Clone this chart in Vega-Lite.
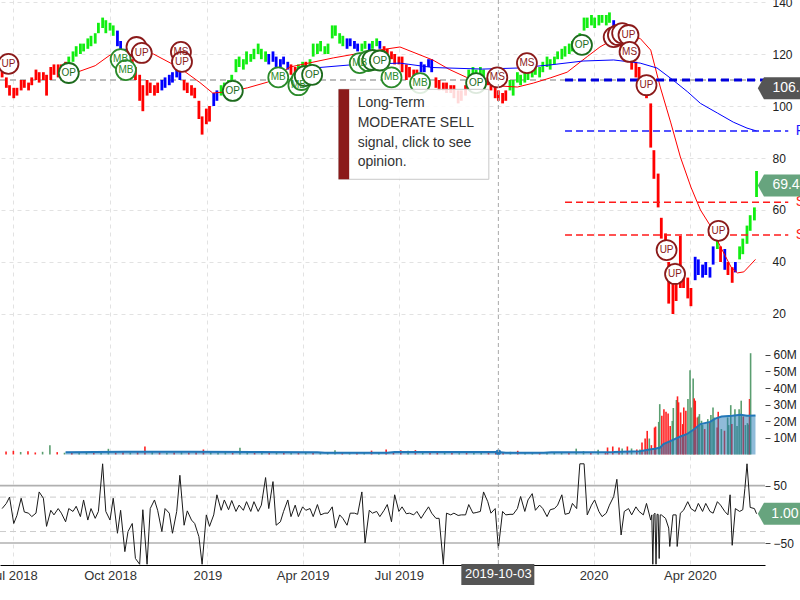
{
"$schema": "https://vega.github.io/schema/vega-lite/v6.json",
"width": 765, "height": 565,
"autosize": {"type": "none"},
"padding": {"left": 0, "top": 0, "right": 35, "bottom": 35},
"background": "white",
"config": {"view": {"stroke": null}, "font": "Liberation Sans"},
"datasets": {
"px": [
{"d":"2018-06-21","lo":111,"hi":114,"s":"r","o":10},
{"d":"2018-06-25","lo":107,"hi":111,"s":"r","o":19},
{"d":"2018-06-28","lo":104,"hi":108,"s":"r","o":30},
{"d":"2018-07-02","lo":103,"hi":107,"s":"r","o":-16},
{"d":"2018-07-05","lo":104,"hi":107,"s":"r","o":-2},
{"d":"2018-07-09","lo":106,"hi":110,"s":"r","o":28},
{"d":"2018-07-12","lo":107,"hi":110,"s":"r","o":4},
{"d":"2018-07-16","lo":106,"hi":109,"s":"r","o":2},
{"d":"2018-07-19","lo":108,"hi":111,"s":"r","o":-4},
{"d":"2018-07-23","lo":110,"hi":114,"s":"r","o":2},
{"d":"2018-07-26","lo":109,"hi":113,"s":"r","o":39},
{"d":"2018-07-30","lo":110,"hi":113,"s":"r","o":28},
{"d":"2018-08-02","lo":104,"hi":112,"s":"r","o":-21},
{"d":"2018-08-06","lo":110,"hi":115,"s":"r","o":7},
{"d":"2018-08-09","lo":112,"hi":116,"s":"r","o":-1},
{"d":"2018-08-13","lo":111,"hi":116,"s":"r","o":10},
{"d":"2018-08-16","lo":112,"hi":116,"s":"r","o":2},
{"d":"2018-08-20","lo":114,"hi":117,"s":"r","o":-13},
{"d":"2018-08-23","lo":116,"hi":119,"s":"g","o":10},
{"d":"2018-08-27","lo":117,"hi":121,"s":"g","o":5},
{"d":"2018-08-30","lo":119,"hi":123,"s":"g","o":14},
{"d":"2018-09-03","lo":120,"hi":124,"s":"g","o":-4},
{"d":"2018-09-06","lo":121,"hi":124,"s":"g","o":25},
{"d":"2018-09-10","lo":122,"hi":126,"s":"g","o":-10},
{"d":"2018-09-13","lo":123,"hi":127,"s":"g","o":10},
{"d":"2018-09-17","lo":124,"hi":128,"s":"g","o":-7},
{"d":"2018-09-20","lo":128,"hi":132,"s":"g","o":5},
{"d":"2018-09-24","lo":130,"hi":134,"s":"g","o":88},
{"d":"2018-09-27","lo":128,"hi":133,"s":"g","o":5},
{"d":"2018-10-01","lo":129,"hi":132,"s":"g","o":-10},
{"d":"2018-10-04","lo":127,"hi":131,"s":"g","o":28},
{"d":"2018-10-08","lo":123,"hi":129,"s":"b","o":-33},
{"d":"2018-10-11","lo":121,"hi":125,"s":"b","o":7},
{"d":"2018-10-15","lo":118,"hi":122,"s":"b","o":-65},
{"d":"2018-10-18","lo":116,"hi":120,"s":"b","o":-30},
{"d":"2018-10-22","lo":113,"hi":118,"s":"r","o":-16},
{"d":"2018-10-25","lo":110,"hi":115,"s":"r","o":-77},
{"d":"2018-10-29","lo":102,"hi":112,"s":"r","o":-87},
{"d":"2018-11-01","lo":98,"hi":108,"s":"r","o":8},
{"d":"2018-11-05","lo":104,"hi":110,"s":"r","o":-87},
{"d":"2018-11-08","lo":105,"hi":109,"s":"r","o":10},
{"d":"2018-11-12","lo":104,"hi":108,"s":"r","o":25},
{"d":"2018-11-15","lo":105,"hi":109,"s":"r","o":7},
{"d":"2018-11-19","lo":106,"hi":110,"s":"b","o":-30},
{"d":"2018-11-22","lo":107,"hi":111,"s":"b","o":10},
{"d":"2018-11-26","lo":108,"hi":112,"s":"b","o":2},
{"d":"2018-11-29","lo":109,"hi":113,"s":"b","o":-33},
{"d":"2018-12-03","lo":111,"hi":115,"s":"b","o":5},
{"d":"2018-12-06","lo":110,"hi":114,"s":"b","o":68},
{"d":"2018-12-10","lo":106,"hi":110,"s":"r","o":-19},
{"d":"2018-12-13","lo":105,"hi":109,"s":"r","o":6},
{"d":"2018-12-17","lo":104,"hi":108,"s":"r","o":-10},
{"d":"2018-12-20","lo":103,"hi":107,"s":"r","o":-16},
{"d":"2018-12-24","lo":95,"hi":102,"s":"r","o":-39},
{"d":"2018-12-27","lo":89,"hi":96,"s":"r","o":-87},
{"d":"2018-12-31","lo":93,"hi":99,"s":"r","o":-1},
{"d":"2019-01-03","lo":94,"hi":100,"s":"r","o":-21},
{"d":"2019-01-07","lo":100,"hi":105,"s":"b","o":-1},
{"d":"2019-01-10","lo":102,"hi":106,"s":"b","o":34},
{"d":"2019-01-14","lo":104,"hi":108,"s":"g","o":7},
{"d":"2019-01-17","lo":105,"hi":109,"s":"g","o":25},
{"d":"2019-01-21","lo":106,"hi":110,"s":"g","o":8},
{"d":"2019-01-24","lo":108,"hi":112,"s":"g","o":24},
{"d":"2019-01-28","lo":113,"hi":118,"s":"g","o":5},
{"d":"2019-01-31","lo":115,"hi":119,"s":"g","o":16},
{"d":"2019-02-04","lo":114,"hi":118,"s":"g","o":7},
{"d":"2019-02-07","lo":116,"hi":121,"s":"g","o":22},
{"d":"2019-02-11","lo":117,"hi":120,"s":"g","o":5},
{"d":"2019-02-14","lo":118,"hi":122,"s":"g","o":22},
{"d":"2019-02-18","lo":120,"hi":124,"s":"g","o":5},
{"d":"2019-02-21","lo":118,"hi":122,"s":"g","o":16},
{"d":"2019-02-25","lo":117,"hi":121,"s":"g","o":64},
{"d":"2019-02-28","lo":116,"hi":120,"s":"b","o":10},
{"d":"2019-03-04","lo":117,"hi":121,"s":"b","o":57},
{"d":"2019-03-07","lo":115,"hi":119,"s":"b","o":-19},
{"d":"2019-03-11","lo":115,"hi":118,"s":"b","o":-13},
{"d":"2019-03-14","lo":116,"hi":119,"s":"b","o":5},
{"d":"2019-03-18","lo":114,"hi":117,"s":"b","o":25},
{"d":"2019-03-21","lo":112,"hi":116,"s":"r","o":-4},
{"d":"2019-03-25","lo":110,"hi":115,"s":"r","o":16},
{"d":"2019-03-28","lo":111,"hi":116,"s":"g","o":-4},
{"d":"2019-04-01","lo":112,"hi":117,"s":"g","o":13},
{"d":"2019-04-04","lo":113,"hi":117,"s":"r","o":7},
{"d":"2019-04-08","lo":114,"hi":118,"s":"g","o":10},
{"d":"2019-04-11","lo":119,"hi":124,"s":"g","o":-4},
{"d":"2019-04-15","lo":120,"hi":124,"s":"g","o":17},
{"d":"2019-04-18","lo":121,"hi":125,"s":"g","o":-1},
{"d":"2019-04-22","lo":120,"hi":123,"s":"g","o":2},
{"d":"2019-04-25","lo":120,"hi":124,"s":"g","o":2},
{"d":"2019-04-29","lo":126,"hi":131,"s":"g","o":13},
{"d":"2019-05-02","lo":127,"hi":131,"s":"g","o":-24},
{"d":"2019-05-06","lo":124,"hi":128,"s":"g","o":-1},
{"d":"2019-05-09","lo":123,"hi":127,"s":"g","o":-7},
{"d":"2019-05-13","lo":122,"hi":126,"s":"b","o":-19},
{"d":"2019-05-16","lo":123,"hi":126,"s":"b","o":2},
{"d":"2019-05-20","lo":122,"hi":125,"s":"b","o":2},
{"d":"2019-05-23","lo":121,"hi":124,"s":"b","o":0},
{"d":"2019-05-27","lo":121,"hi":124,"s":"g","o":39},
{"d":"2019-05-30","lo":122,"hi":125,"s":"g","o":-50},
{"d":"2019-06-03","lo":121,"hi":124,"s":"b","o":7},
{"d":"2019-06-06","lo":122,"hi":125,"s":"g","o":2},
{"d":"2019-06-10","lo":123,"hi":126,"s":"g","o":5},
{"d":"2019-06-13","lo":122,"hi":125,"s":"b","o":-4},
{"d":"2019-06-17","lo":120,"hi":123,"s":"r","o":7},
{"d":"2019-06-20","lo":117,"hi":122,"s":"r","o":17},
{"d":"2019-06-24","lo":118,"hi":121,"s":"r","o":-13},
{"d":"2019-06-27","lo":116,"hi":120,"s":"r","o":34},
{"d":"2019-07-01","lo":116,"hi":119,"s":"r","o":5},
{"d":"2019-07-04","lo":113,"hi":119,"s":"r","o":13},
{"d":"2019-07-08","lo":110,"hi":116,"s":"r","o":1},
{"d":"2019-07-11","lo":111,"hi":115,"s":"r","o":2},
{"d":"2019-07-15","lo":109,"hi":114,"s":"r","o":-1},
{"d":"2019-07-18","lo":110,"hi":114,"s":"r","o":5},
{"d":"2019-07-22","lo":113,"hi":117,"s":"b","o":-7},
{"d":"2019-07-25","lo":113,"hi":116,"s":"b","o":2},
{"d":"2019-07-29","lo":115,"hi":118,"s":"b","o":13},
{"d":"2019-08-01","lo":113,"hi":118,"s":"b","o":2},
{"d":"2019-08-05","lo":107,"hi":111,"s":"r","o":-7},
{"d":"2019-08-08","lo":106,"hi":110,"s":"r","o":-7},
{"d":"2019-08-12","lo":106,"hi":109,"s":"r","o":-87},
{"d":"2019-08-15","lo":105,"hi":109,"s":"r","o":2},
{"d":"2019-08-19","lo":105,"hi":108,"s":"r","o":-1},
{"d":"2019-08-22","lo":103,"hi":108,"s":"r","o":2},
{"d":"2019-08-26","lo":101,"hi":106,"s":"r","o":-2},
{"d":"2019-08-29","lo":102,"hi":106,"s":"r","o":-1},
{"d":"2019-09-02","lo":104,"hi":108,"s":"r","o":-1},
{"d":"2019-09-05","lo":110,"hi":114,"s":"g","o":17},
{"d":"2019-09-09","lo":111,"hi":115,"s":"g","o":2},
{"d":"2019-09-12","lo":111,"hi":114,"s":"g","o":3},
{"d":"2019-09-16","lo":112,"hi":115,"s":"g","o":5},
{"d":"2019-09-19","lo":110,"hi":114,"s":"g","o":39},
{"d":"2019-09-23","lo":108,"hi":111,"s":"r","o":22},
{"d":"2019-09-26","lo":106,"hi":110,"s":"r","o":2},
{"d":"2019-09-30","lo":103,"hi":108,"s":"r","o":10},
{"d":"2019-10-03","lo":102,"hi":106,"s":"r","o":-59},
{"d":"2019-10-07","lo":101,"hi":105,"s":"r","o":5},
{"d":"2019-10-10","lo":102,"hi":106,"s":"r","o":-1},
{"d":"2019-10-14","lo":106,"hi":110,"s":"g","o":0},
{"d":"2019-10-17","lo":104,"hi":110,"s":"g","o":0},
{"d":"2019-10-21","lo":109,"hi":113,"s":"g","o":10},
{"d":"2019-10-24","lo":108,"hi":112,"s":"g","o":31},
{"d":"2019-10-28","lo":109,"hi":114,"s":"g","o":5},
{"d":"2019-10-31","lo":110,"hi":114,"s":"g","o":25},
{"d":"2019-11-04","lo":111,"hi":115,"s":"g","o":36},
{"d":"2019-11-07","lo":112,"hi":116,"s":"g","o":7},
{"d":"2019-11-11","lo":111,"hi":115,"s":"g","o":16},
{"d":"2019-11-14","lo":113,"hi":117,"s":"g","o":10},
{"d":"2019-11-18","lo":115,"hi":119,"s":"g","o":-4},
{"d":"2019-11-21","lo":114,"hi":118,"s":"g","o":8},
{"d":"2019-11-25","lo":116,"hi":119,"s":"g","o":10},
{"d":"2019-11-28","lo":118,"hi":121,"s":"g","o":16},
{"d":"2019-12-02","lo":118,"hi":122,"s":"g","o":34},
{"d":"2019-12-05","lo":119,"hi":123,"s":"g","o":0},
{"d":"2019-12-09","lo":120,"hi":124,"s":"g","o":2},
{"d":"2019-12-12","lo":121,"hi":125,"s":"g","o":19},
{"d":"2019-12-16","lo":122,"hi":126,"s":"g","o":10},
{"d":"2019-12-19","lo":124,"hi":128,"s":"g","o":88},
{"d":"2019-12-23","lo":129,"hi":134,"s":"g","o":88},
{"d":"2019-12-26","lo":130,"hi":134,"s":"g","o":-1},
{"d":"2019-12-30","lo":131,"hi":135,"s":"g","o":16},
{"d":"2020-01-02","lo":130,"hi":134,"s":"g","o":25},
{"d":"2020-01-06","lo":131,"hi":135,"s":"g","o":5},
{"d":"2020-01-09","lo":132,"hi":135,"s":"g","o":-4},
{"d":"2020-01-13","lo":131,"hi":135,"s":"g","o":2},
{"d":"2020-01-16","lo":132,"hi":136,"s":"g","o":16},
{"d":"2020-01-20","lo":129,"hi":133,"s":"b","o":31},
{"d":"2020-01-23","lo":126,"hi":131,"s":"r","o":61},
{"d":"2020-01-27","lo":121,"hi":127,"s":"r","o":-36},
{"d":"2020-01-30","lo":119,"hi":125,"s":"r","o":5},
{"d":"2020-02-03","lo":117,"hi":123,"s":"r","o":10},
{"d":"2020-02-06","lo":114,"hi":120,"s":"r","o":-1},
{"d":"2020-02-10","lo":111,"hi":117,"s":"r","o":13},
{"d":"2020-02-13","lo":110,"hi":115,"s":"r","o":5},
{"d":"2020-02-17","lo":106,"hi":111,"s":"r","o":-1},
{"d":"2020-02-20","lo":103,"hi":108,"s":"r","o":19},
{"d":"2020-02-24","lo":84,"hi":101,"s":"r","o":-10},
{"d":"2020-02-25","o":-1},
{"d":"2020-02-26","o":-87},
{"d":"2020-02-27","lo":72,"hi":83,"s":"r","o":0},
{"d":"2020-02-28","o":2},
{"d":"2020-02-29","o":-87},
{"d":"2020-03-01","o":0},
{"d":"2020-03-02","lo":61,"hi":74,"s":"r","o":0},
{"d":"2020-03-03","o":-77},
{"d":"2020-03-04","o":-1},
{"d":"2020-03-05","lo":49,"hi":57,"s":"r","o":-1},
{"d":"2020-03-09","lo":44,"hi":51,"s":"r","o":-7},
{"d":"2020-03-12","lo":24,"hi":40,"s":"r","o":-24},
{"d":"2020-03-13","o":-56},
{"d":"2020-03-16","lo":20,"hi":32,"s":"r","o":-1},
{"d":"2020-03-19","lo":25,"hi":32,"s":"r","o":-1},
{"d":"2020-03-20","o":-56},
{"d":"2020-03-23","lo":30,"hi":50,"s":"r","o":2},
{"d":"2020-03-26","lo":30,"hi":36,"s":"r","o":7},
{"d":"2020-03-30","lo":26,"hi":34,"s":"r","o":22},
{"d":"2020-04-02","lo":23,"hi":30,"s":"r","o":10},
{"d":"2020-04-06","lo":33,"hi":42,"s":"b","o":5},
{"d":"2020-04-09","lo":35,"hi":41,"s":"b","o":19},
{"d":"2020-04-13","lo":34,"hi":39,"s":"b","o":5},
{"d":"2020-04-16","lo":35,"hi":40,"s":"b","o":19},
{"d":"2020-04-20","lo":34,"hi":38,"s":"b","o":5},
{"d":"2020-04-23","lo":39,"hi":46,"s":"b","o":2},
{"d":"2020-04-27","lo":45,"hi":51,"s":"g","o":22},
{"d":"2020-04-30","lo":40,"hi":46,"s":"r","o":16},
{"d":"2020-05-04","lo":37,"hi":45,"s":"b","o":5},
{"d":"2020-05-07","lo":35,"hi":40,"s":"r","o":-1},
{"d":"2020-05-09","o":34},
{"d":"2020-05-11","lo":32,"hi":38,"s":"r","o":-54},
{"d":"2020-05-14","lo":36,"hi":40,"s":"b","o":10},
{"d":"2020-05-18","lo":41,"hi":46,"s":"g","o":5},
{"d":"2020-05-21","lo":43,"hi":49,"s":"g","o":8},
{"d":"2020-05-23","o":45},
{"d":"2020-05-25","lo":47,"hi":54,"s":"g","o":88},
{"d":"2020-05-28","lo":52,"hi":58,"s":"g","o":12},
{"d":"2020-06-01","lo":56,"hi":61,"s":"g","o":10},
{"d":"2020-06-03","lo":65,"hi":75,"s":"g","o":1}
],
"mar": [
{"d":"2018-08-24","p":112},{"d":"2018-09-17","p":115.5},{"d":"2018-10-01","p":119.6},{"d":"2018-10-15","p":121},
{"d":"2018-11-11","p":120},{"d":"2018-12-06","p":114.6},{"d":"2018-12-25","p":109},{"d":"2019-01-06","p":105},
{"d":"2019-01-22","p":105.5},{"d":"2019-02-08","p":107},{"d":"2019-02-27","p":109.2},{"d":"2019-03-20","p":115},
{"d":"2019-04-30","p":118.5},{"d":"2019-06-04","p":121},{"d":"2019-07-02","p":122.7},{"d":"2019-08-02","p":117.7},
{"d":"2019-08-18","p":114},{"d":"2019-09-03","p":111},{"d":"2019-09-22","p":109},{"d":"2019-10-04","p":107.7},
{"d":"2019-10-21","p":107.3},{"d":"2019-11-05","p":108.8},{"d":"2019-11-21","p":110.8},{"d":"2019-12-07","p":113},
{"d":"2019-12-26","p":119},{"d":"2020-01-07","p":122.7},{"d":"2020-01-17","p":125},{"d":"2020-02-02","p":127},
{"d":"2020-02-14","p":126},{"d":"2020-02-24","p":121.5},{"d":"2020-03-04","p":107.3},{"d":"2020-03-14","p":93.5},
{"d":"2020-03-23","p":80.4},{"d":"2020-04-02","p":68.8},{"d":"2020-04-11","p":60},{"d":"2020-04-21","p":53.5},
{"d":"2020-04-30","p":45.8},{"d":"2020-05-10","p":38},{"d":"2020-05-16","p":35.8},{"d":"2020-05-22","p":36.2},
{"d":"2020-05-28","p":38.8},{"d":"2020-06-02","p":41}
],
"mab": [
{"d":"2019-03-27","p":112},{"d":"2019-04-11","p":114.6},{"d":"2019-05-16","p":115.8},{"d":"2019-07-02","p":116.5},
{"d":"2019-08-02","p":114.8},{"d":"2019-09-18","p":114.2},{"d":"2019-10-21","p":114.6},{"d":"2019-11-21","p":115.8},
{"d":"2019-12-22","p":117.3},{"d":"2020-01-20","p":117.7},{"d":"2020-02-14","p":116.5},{"d":"2020-03-01","p":114.6},
{"d":"2020-03-16","p":110},{"d":"2020-03-30","p":105.4},{"d":"2020-04-11","p":101},{"d":"2020-04-27","p":97.3},
{"d":"2020-05-12","p":93.8},{"d":"2020-05-25","p":91.5},{"d":"2020-06-03","p":90.4}
],
"lvl": [
{"d":"2018-06-19","d2":"2020-06-11","p":110,"k":"cross"},
{"d":"2019-12-05","d2":"2020-07-03","p":110,"k":"r1"},
{"d":"2019-12-05","d2":"2020-07-03","p":90.4,"k":"r2"},
{"d":"2019-12-05","d2":"2020-07-03","p":63,"k":"s"},
{"d":"2019-12-05","d2":"2020-07-03","p":50.4,"k":"s"}
],
"lvlt": [
{"d":"2020-07-10","p":90.4,"t":"R","k":"r"},
{"d":"2020-07-10","p":63,"t":"S","k":"s"},
{"d":"2020-07-10","p":50.4,"t":"S","k":"s"}
],
"sig": [
{"d":"2018-06-27","p":116.2,"t":"UP","k":"UP"},
{"d":"2018-08-23","p":112.7,"t":"OP","k":"OP"},
{"d":"2018-10-11","p":118,"t":"MB","k":"MB"},
{"d":"2018-10-16","p":113.8,"t":"MB","k":"MB"},
{"d":"2018-10-26","p":122.7,"t":"","k":"UP"},
{"d":"2018-10-31","p":120.4,"t":"UP","k":"UP"},
{"d":"2018-12-07","p":120.8,"t":"MS","k":"MS"},
{"d":"2018-12-08","p":117,"t":"UP","k":"UP"},
{"d":"2019-01-25","p":105.8,"t":"OP","k":"OP"},
{"d":"2019-03-09","p":111,"t":"MB","k":"MB"},
{"d":"2019-03-28","p":108,"t":"MB","k":"MB"},
{"d":"2019-03-31","p":110,"t":"","k":"MB"},
{"d":"2019-04-03","p":111.5,"t":"","k":"OP"},
{"d":"2019-04-10","p":112,"t":"OP","k":"OP"},
{"d":"2019-05-25","p":116.5,"t":"MB","k":"MB"},
{"d":"2019-06-02","p":117.3,"t":"","k":"MB"},
{"d":"2019-06-06","p":117.7,"t":"","k":"OP"},
{"d":"2019-06-13","p":117.5,"t":"OP","k":"OP"},
{"d":"2019-06-24","p":111,"t":"MB","k":"MB"},
{"d":"2019-07-21","p":108.8,"t":"MB","k":"MB"},
{"d":"2019-09-12","p":108.8,"t":"OP","k":"OP"},
{"d":"2019-10-02","p":111,"t":"MS","k":"MS"},
{"d":"2019-10-30","p":116.5,"t":"MS","k":"MS"},
{"d":"2019-12-21","p":123.5,"t":"OP","k":"OP"},
{"d":"2020-01-20","p":126.5,"t":"","k":"UP"},
{"d":"2020-01-24","p":127.3,"t":"","k":"UP"},
{"d":"2020-01-28","p":128,"t":"","k":"UP"},
{"d":"2020-02-03","p":127.3,"t":"UP","k":"UP"},
{"d":"2020-02-04","p":120.8,"t":"MS","k":"MS"},
{"d":"2020-02-20","p":108,"t":"UP","k":"UP"},
{"d":"2020-03-10","p":44.6,"t":"UP","k":"UP"},
{"d":"2020-03-18","p":35.4,"t":"UP","k":"UP"},
{"d":"2020-04-28","p":52,"t":"UP","k":"UP"}
],
"tiptext": [
{"d":"2019-05-23","p":101.0,"t":"Long-Term"},
{"d":"2019-05-23","p":93.35,"t":"MODERATE SELL"},
{"d":"2019-05-23","p":85.65,"t":"signal, click to see"},
{"d":"2019-05-23","p":78.6,"t":"opinion."}
],
"tags": [
{"d":"2020-06-25","dt":"2020-06-18","p":106.8,"t":"106.8","k":"cross"},
{"d":"2020-06-25","dt":"2020-06-18","p":69.44,"t":"69.44","k":"last"}
],
"vol": [
{"d":"2018-06-20","v":1.8,"c":"dn"},{"d":"2018-06-27","v":2.2,"c":"dn"},{"d":"2018-07-04","v":1.5,"c":"up"},{"d":"2018-07-11","v":2.0,"c":"dn"},
{"d":"2018-07-18","v":1.2,"c":"dn"},{"d":"2018-07-25","v":1.6,"c":"up"},{"d":"2018-08-01","v":5.6,"c":"up"},{"d":"2018-08-08","v":1.4,"c":"dn"},
{"d":"2018-08-15","v":1.0,"c":"up"},{"d":"2018-08-22","v":1.3,"c":"dn"},{"d":"2018-08-29","v":0.9,"c":"up"},{"d":"2018-09-05","v":1.1,"c":"up"},
{"d":"2018-09-12","v":1.2,"c":"dn"},{"d":"2018-09-19","v":0.9,"c":"up"},{"d":"2018-09-26","v":3.4,"c":"up"},{"d":"2018-10-03","v":1.3,"c":"dn"},
{"d":"2018-10-10","v":1.5,"c":"dn"},{"d":"2018-10-17","v":1.2,"c":"up"},{"d":"2018-10-24","v":1.6,"c":"dn"},{"d":"2018-10-31","v":4.8,"c":"dn"},
{"d":"2018-11-07","v":2.0,"c":"up"},{"d":"2018-11-14","v":1.4,"c":"dn"},{"d":"2018-11-21","v":1.1,"c":"up"},{"d":"2018-11-28","v":1.3,"c":"dn"},
{"d":"2018-12-05","v":1.8,"c":"up"},{"d":"2018-12-12","v":1.2,"c":"dn"},{"d":"2018-12-19","v":1.6,"c":"dn"},{"d":"2018-12-26","v":3.0,"c":"dn"},
{"d":"2019-01-02","v":1.5,"c":"up"},{"d":"2019-01-09","v":1.2,"c":"up"},{"d":"2019-01-16","v":1.4,"c":"up"},{"d":"2019-01-23","v":1.1,"c":"dn"},
{"d":"2019-01-30","v":4.0,"c":"up"},{"d":"2019-02-06","v":1.3,"c":"up"},{"d":"2019-02-13","v":1.0,"c":"dn"},{"d":"2019-02-20","v":1.2,"c":"up"},
{"d":"2019-02-27","v":1.0,"c":"dn"},{"d":"2019-03-06","v":1.1,"c":"up"},{"d":"2019-03-13","v":1.3,"c":"dn"},{"d":"2019-03-20","v":0.9,"c":"up"},
{"d":"2019-03-27","v":1.2,"c":"dn"},{"d":"2019-04-03","v":1.0,"c":"up"},{"d":"2019-04-10","v":1.4,"c":"dn"},{"d":"2019-04-17","v":1.1,"c":"up"},
{"d":"2019-04-24","v":1.2,"c":"up"},{"d":"2019-05-01","v":2.5,"c":"up"},{"d":"2019-05-08","v":1.0,"c":"dn"},{"d":"2019-05-15","v":0.8,"c":"up"},
{"d":"2019-05-22","v":1.0,"c":"dn"},{"d":"2019-05-29","v":0.9,"c":"up"},{"d":"2019-06-05","v":2.3,"c":"dn"},{"d":"2019-06-12","v":1.0,"c":"up"},
{"d":"2019-06-19","v":3.0,"c":"dn"},{"d":"2019-06-26","v":1.2,"c":"dn"},{"d":"2019-07-03","v":2.5,"c":"dn"},{"d":"2019-07-10","v":2.2,"c":"up"},
{"d":"2019-07-17","v":2.6,"c":"dn"},{"d":"2019-07-24","v":1.4,"c":"up"},{"d":"2019-07-31","v":1.2,"c":"dn"},{"d":"2019-08-07","v":1.0,"c":"dn"},
{"d":"2019-08-14","v":0.9,"c":"up"},{"d":"2019-08-21","v":1.1,"c":"dn"},{"d":"2019-08-28","v":0.8,"c":"up"},{"d":"2019-09-04","v":1.0,"c":"dn"},
{"d":"2019-09-11","v":1.8,"c":"up"},{"d":"2019-09-18","v":1.0,"c":"up"},{"d":"2019-09-25","v":1.2,"c":"dn"},{"d":"2019-10-02","v":1.4,"c":"dn"},
{"d":"2019-10-09","v":1.1,"c":"dn"},{"d":"2019-10-16","v":1.6,"c":"up"},{"d":"2019-10-23","v":2.2,"c":"dn"},{"d":"2019-10-30","v":1.0,"c":"up"},
{"d":"2019-11-06","v":0.9,"c":"up"},{"d":"2019-11-13","v":1.0,"c":"dn"},{"d":"2019-11-20","v":1.1,"c":"up"},{"d":"2019-11-27","v":0.9,"c":"up"},
{"d":"2019-12-04","v":1.2,"c":"up"},{"d":"2019-12-11","v":1.0,"c":"dn"},{"d":"2019-12-18","v":3.5,"c":"up"},{"d":"2019-12-25","v":2.0,"c":"up"},
{"d":"2020-01-01","v":1.2,"c":"dn"},{"d":"2020-01-08","v":2.8,"c":"up"},{"d":"2020-01-15","v":1.5,"c":"dn"},
{"d":"2020-01-17","v":4.2,"c":"dn"},{"d":"2020-01-22","v":4.8,"c":"dn"},{"d":"2020-01-28","v":4.2,"c":"dn"},{"d":"2020-01-31","v":3.6,"c":"up"},
{"d":"2020-02-05","v":4.8,"c":"dn"},{"d":"2020-02-09","v":3.6,"c":"up"},{"d":"2020-02-14","v":3.0,"c":"dn"},{"d":"2020-02-17","v":3.0,"c":"up"},
{"d":"2020-02-19","v":7.2,"c":"dn"},{"d":"2020-02-22","v":9.6,"c":"dn"},{"d":"2020-02-24","v":14.2,"c":"dn"},{"d":"2020-02-26","v":9.6,"c":"up"},
{"d":"2020-02-28","v":5.6,"c":"dn"},{"d":"2020-03-02","v":16.2,"c":"dn"},{"d":"2020-03-03","v":16.8,"c":"dn"},{"d":"2020-03-06","v":19.6,"c":"up"},
{"d":"2020-03-07","v":30.3,"c":"up"},{"d":"2020-03-09","v":23.3,"c":"dn"},{"d":"2020-03-11","v":27.3,"c":"dn"},{"d":"2020-03-13","v":25.7,"c":"dn"},
{"d":"2020-03-15","v":24.7,"c":"dn"},{"d":"2020-03-17","v":17.2,"c":"dn"},{"d":"2020-03-19","v":20.2,"c":"up"},{"d":"2020-03-20","v":28,"c":"up"},
{"d":"2020-03-23","v":32.8,"c":"up"},{"d":"2020-03-24","v":35,"c":"dn"},{"d":"2020-03-25","v":31.4,"c":"dn"},{"d":"2020-03-27","v":25.3,"c":"dn"},
{"d":"2020-03-29","v":18.3,"c":"dn"},{"d":"2020-03-30","v":28.3,"c":"dn"},{"d":"2020-04-01","v":26.3,"c":"dn"},{"d":"2020-04-03","v":33.4,"c":"up"},
{"d":"2020-04-05","v":50.8,"c":"up"},{"d":"2020-04-06","v":28.3,"c":"up"},{"d":"2020-04-08","v":45.8,"c":"up"},{"d":"2020-04-09","v":33.8,"c":"dn"},
{"d":"2020-04-10","v":32.4,"c":"dn"},{"d":"2020-04-12","v":22.3,"c":"dn"},{"d":"2020-04-13","v":22.9,"c":"up"},{"d":"2020-04-14","v":24.3,"c":"up"},
{"d":"2020-04-16","v":20.3,"c":"up"},{"d":"2020-04-17","v":17.7,"c":"up"},{"d":"2020-04-19","v":15.3,"c":"dn"},{"d":"2020-04-22","v":21.3,"c":"up"},
{"d":"2020-04-24","v":19.2,"c":"dn"},{"d":"2020-04-25","v":23.7,"c":"up"},{"d":"2020-04-27","v":28.3,"c":"up"},{"d":"2020-04-28","v":22.3,"c":"up"},
{"d":"2020-05-01","v":16.3,"c":"dn"},{"d":"2020-05-02","v":25.7,"c":"dn"},{"d":"2020-05-05","v":15.3,"c":"up"},{"d":"2020-05-08","v":14.3,"c":"dn"},
{"d":"2020-05-11","v":22.3,"c":"up"},{"d":"2020-05-12","v":17.7,"c":"up"},{"d":"2020-05-14","v":29.7,"c":"up"},{"d":"2020-05-15","v":18.3,"c":"dn"},
{"d":"2020-05-18","v":27.3,"c":"up"},{"d":"2020-05-20","v":17.2,"c":"up"},{"d":"2020-05-22","v":27.3,"c":"up"},{"d":"2020-05-24","v":32.4,"c":"up"},
{"d":"2020-05-26","v":22.9,"c":"dn"},{"d":"2020-05-28","v":17.7,"c":"up"},{"d":"2020-05-30","v":18.9,"c":"up"},{"d":"2020-05-31","v":18,"c":"up"},
{"d":"2020-06-01","v":33.4,"c":"dn"},{"d":"2020-06-02","v":61,"c":"up"}
],
"vma": [
{"d":"2018-08-20","v":1.4},{"d":"2018-10-15","v":1.6},{"d":"2018-12-15","v":1.6},{"d":"2019-02-15","v":1.5},{"d":"2019-04-15","v":1.4},
{"d":"2019-04-22","v":1.1},{"d":"2019-06-20","v":1.1},{"d":"2019-06-27","v":1.5},{"d":"2019-10-03","v":1.5},{"d":"2019-10-10","v":1.0},
{"d":"2019-11-15","v":1.0},{"d":"2019-11-22","v":1.4},{"d":"2020-01-20","v":1.5},{"d":"2020-02-14","v":2.0},{"d":"2020-02-23","v":3.0},
{"d":"2020-02-28","v":3.5},{"d":"2020-03-04","v":4.2},{"d":"2020-03-07","v":6.2},{"d":"2020-03-14","v":8.2},{"d":"2020-03-23","v":10.8},
{"d":"2020-03-29","v":12.2},{"d":"2020-04-05","v":15.2},{"d":"2020-04-11","v":18.3},{"d":"2020-04-20","v":19.6},{"d":"2020-04-25","v":21.6},
{"d":"2020-05-01","v":22.8},{"d":"2020-05-11","v":23.3},{"d":"2020-05-19","v":23.9},{"d":"2020-05-25","v":23.3},{"d":"2020-06-02","v":23.5}
],
"osl": [
{"d":"2018-06-19","d2":"2020-06-11","o":50,"k":"solid"},
{"d":"2018-06-19","d2":"2020-06-11","o":-50,"k":"solid"},
{"d":"2018-06-19","d2":"2020-06-11","o":30,"k":"dash"},
{"d":"2018-06-19","d2":"2020-06-11","o":-30,"k":"dash"}
]
},
"encoding": {
"x": {"field": "d", "type": "temporal",
 "scale": {"type": "utc", "domain": [1529366400000, 1591833600000]},
 "axis": null}
},
"layer": [
 {"data": {"name": "lvl"}, "transform": [{"filter": "datum.k == 'cross'"}],
  "mark": {"type": "rule", "color": "#bdbdbd", "strokeWidth": 2, "strokeDash": [6,4]},
  "encoding": {"x2": {"field": "d2"},
   "y": {"field": "p", "type": "quantitative", "scale": {"domain": [-76.54, 140.77], "nice": false, "zero": false},
    "axis": {"title": null, "orient": "right", "values": [20,40,60,80,100,120,140], "grid": true, "gridColor": "#e2e2e2", "gridDash": [4,4], "ticks": false, "domain": false, "labelFontSize": 12, "labelColor": "#222222", "labelPadding": 7}}}},
 {"data": {"name": "px"}, "transform": [{"filter": "isValid(datum.lo)"}],
  "mark": {"type": "rule", "strokeWidth": 2.8},
  "encoding": {"y": {"field": "lo", "type": "quantitative", "scale": {"domain": [-76.54, 140.77], "nice": false, "zero": false}, "axis": null}, "y2": {"field": "hi"},
   "color": {"field": "s", "type": "nominal", "scale": {"domain": ["g","b","r"], "range": ["#11ee11","#0000ff","#ff0000"]}, "legend": null}}},
 {"data": {"name": "mar"}, "mark": {"type": "line", "color": "#ff0000", "strokeWidth": 1},
  "encoding": {"y": {"field": "p", "type": "quantitative", "scale": {"domain": [-76.54, 140.77], "nice": false, "zero": false}, "axis": null}}},
 {"data": {"name": "mab"}, "mark": {"type": "line", "color": "#0000ff", "strokeWidth": 1},
  "encoding": {"y": {"field": "p", "type": "quantitative", "scale": {"domain": [-76.54, 140.77], "nice": false, "zero": false}, "axis": null}}},
 {"data": {"name": "lvl"}, "transform": [{"filter": "datum.k == 'r1'"}],
  "mark": {"type": "rule", "color": "#0000dd", "strokeWidth": 3, "strokeDash": [8,5]},
  "encoding": {"x2": {"field": "d2"}, "y": {"field": "p", "type": "quantitative", "scale": {"domain": [-76.54, 140.77], "nice": false, "zero": false}, "axis": null}}},
 {"data": {"name": "lvl"}, "transform": [{"filter": "datum.k == 'r2'"}],
  "mark": {"type": "rule", "color": "#1a1aff", "strokeWidth": 1.6, "strokeDash": [7,4]},
  "encoding": {"x2": {"field": "d2"}, "y": {"field": "p", "type": "quantitative", "scale": {"domain": [-76.54, 140.77], "nice": false, "zero": false}, "axis": null}}},
 {"data": {"name": "lvl"}, "transform": [{"filter": "datum.k == 's'"}],
  "mark": {"type": "rule", "color": "#ff1a1a", "strokeWidth": 1.6, "strokeDash": [7,4]},
  "encoding": {"x2": {"field": "d2"}, "y": {"field": "p", "type": "quantitative", "scale": {"domain": [-76.54, 140.77], "nice": false, "zero": false}, "axis": null}}},
 {"data": {"name": "lvlt"}, "transform": [{"filter": "datum.k == 'r'"}],
  "mark": {"type": "text", "color": "#1a1aff", "fontSize": 14, "align": "left", "baseline": "middle"},
  "encoding": {"y": {"field": "p", "type": "quantitative", "scale": {"domain": [-76.54, 140.77], "nice": false, "zero": false}, "axis": null}, "text": {"field": "t"}}},
 {"data": {"name": "lvlt"}, "transform": [{"filter": "datum.k == 's'"}],
  "mark": {"type": "text", "color": "#ff1a1a", "fontSize": 14, "align": "left", "baseline": "middle"},
  "encoding": {"y": {"field": "p", "type": "quantitative", "scale": {"domain": [-76.54, 140.77], "nice": false, "zero": false}, "axis": null}, "text": {"field": "t"}}},
 {"data": {"name": "sig"},
  "mark": {"type": "point", "filled": true, "fill": "white", "fillOpacity": 1, "opacity": 1, "size": 400, "strokeWidth": 1.8},
  "encoding": {"y": {"field": "p", "type": "quantitative", "scale": {"domain": [-76.54, 140.77], "nice": false, "zero": false}, "axis": null},
   "stroke": {"field": "k", "type": "nominal", "scale": {"domain": ["UP","MS","OP","MB"], "range": ["#8b1a1a","#8b1a1a","#1d6b1d","#2a8a2a"]}, "legend": null}}},
 {"data": {"name": "sig"},
  "mark": {"type": "text", "fontSize": 10, "baseline": "middle", "align": "center"},
  "encoding": {"y": {"field": "p", "type": "quantitative", "scale": {"domain": [-76.54, 140.77], "nice": false, "zero": false}, "axis": null}, "text": {"field": "t"},
   "color": {"field": "k", "type": "nominal", "scale": {"domain": ["UP","MS","OP","MB"], "range": ["#8b1a1a","#8b1a1a","#1d6b1d","#2a8a2a"]}, "legend": null}}},
 {"data": {"values": [{"d":"2019-05-05","d2":"2019-09-24","p":106.42,"p2":71.81}]},
  "mark": {"type": "rect", "fill": "white", "fillOpacity": 0.85, "stroke": "#c8c8c8", "strokeWidth": 1},
  "encoding": {"x2": {"field": "d2"}, "y": {"field": "p", "type": "quantitative", "scale": {"domain": [-76.54, 140.77], "nice": false, "zero": false}, "axis": null}, "y2": {"field": "p2"}}},
 {"data": {"values": [{"d":"2019-05-05","d2":"2019-05-15","p":106.42,"p2":71.81}]},
  "mark": {"type": "rect", "fill": "#8b1a1a"},
  "encoding": {"x2": {"field": "d2"}, "y": {"field": "p", "type": "quantitative", "scale": {"domain": [-76.54, 140.77], "nice": false, "zero": false}, "axis": null}, "y2": {"field": "p2"}}},
 {"data": {"name": "tiptext"},
  "mark": {"type": "text", "fontSize": 14, "color": "#333333", "align": "left", "baseline": "middle"},
  "encoding": {"y": {"field": "p", "type": "quantitative", "scale": {"domain": [-76.54, 140.77], "nice": false, "zero": false}, "axis": null}, "text": {"field": "t"}}},
 {"data": {"name": "tags"},
  "mark": {"type": "point", "filled": true, "opacity": 1, "size": 1936, "strokeWidth": 0, "shape": "M-1,0L-0.72,-0.5L1,-0.5L1,0.5L-0.72,0.5Z"},
  "encoding": {"y": {"field": "p", "type": "quantitative", "scale": {"domain": [-76.54, 140.77], "nice": false, "zero": false}, "axis": null},
   "fill": {"field": "k", "type": "nominal", "scale": {"domain": ["cross","last"], "range": ["#555555","#67a47e"]}, "legend": null}}},
 {"data": {"name": "tags"},
  "mark": {"type": "text", "fontSize": 14, "color": "white", "align": "left", "baseline": "middle"},
  "encoding": {"x": {"field": "dt", "type": "temporal", "axis": null}, "y": {"field": "p", "type": "quantitative", "scale": {"domain": [-76.54, 140.77], "nice": false, "zero": false}, "axis": null}, "text": {"field": "t"}}},

 {"data": {"name": "vol"},
  "mark": {"type": "bar", "width": 1.6},
  "encoding": {"y": {"field": "v", "type": "quantitative", "stack": null, "scale": {"domain": [-66.6, 273.8], "nice": false, "zero": false},
    "axis": {"title": null, "orient": "right", "values": [10,20,30,40,50,60], "labelExpr": "datum.value + 'M'", "grid": false, "ticks": true, "tickSize": 5, "tickColor": "#444444", "domain": false, "labelFontSize": 12, "labelColor": "#222222", "labelPadding": 3}},
   "y2": {"datum": 0},
   "color": {"field": "c", "type": "nominal", "scale": {"domain": ["up","dn"], "range": ["#5a9e70","#ff2020"]}, "legend": null}}},
 {"data": {"name": "vma"},
  "mark": {"type": "area", "color": "#1f77b4", "fillOpacity": 0.5, "opacity": 1},
  "encoding": {"y": {"field": "v", "type": "quantitative", "stack": null, "scale": {"domain": [-66.6, 273.8], "nice": false, "zero": false}, "axis": null}, "y2": {"datum": 0}}},
 {"data": {"name": "vma"},
  "mark": {"type": "line", "color": "#2277b8", "strokeWidth": 2},
  "encoding": {"y": {"field": "v", "type": "quantitative", "scale": {"domain": [-66.6, 273.8], "nice": false, "zero": false}, "axis": null}}},
 {"data": {"values": [{"d":"2019-10-03","v":1.4}]},
  "mark": {"type": "point", "filled": true, "color": "#2277b8", "size": 30, "opacity": 1},
  "encoding": {"y": {"field": "v", "type": "quantitative", "scale": {"domain": [-66.6, 273.8], "nice": false, "zero": false}, "axis": null}}},

 {"data": {"name": "osl"}, "transform": [{"filter": "datum.k == 'solid'"}],
  "mark": {"type": "rule", "color": "#b0b0b0", "strokeWidth": 1.6},
  "encoding": {"x2": {"field": "d2"},
   "y": {"field": "o", "type": "quantitative", "scale": {"domain": [-88.3, 896], "nice": false, "zero": false},
    "axis": {"title": null, "orient": "right", "values": [-50, 50], "grid": false, "ticks": true, "tickSize": 5, "tickColor": "#444444", "domain": false, "labelFontSize": 12, "labelColor": "#222222", "labelPadding": 3}}}},
 {"data": {"name": "osl"}, "transform": [{"filter": "datum.k == 'dash'"}],
  "mark": {"type": "rule", "color": "#cccccc", "strokeWidth": 1, "strokeDash": [6,4]},
  "encoding": {"x2": {"field": "d2"}, "y": {"field": "o", "type": "quantitative", "scale": {"domain": [-88.3, 896], "nice": false, "zero": false}, "axis": null}}},
 {"data": {"name": "px"},
  "mark": {"type": "line", "color": "#1a1a1a", "strokeWidth": 1},
  "encoding": {
   "x": {"field": "d", "type": "temporal", "scale": {"type": "utc", "domain": [1529366400000, 1591833600000]},
    "axis": {"title": null, "orient": "bottom",
     "values": [1530403200000, 1538352000000, 1546300800000, 1554076800000, 1561939200000, 1577836800000, 1585699200000],
     "labelExpr": "utcmonth(datum.value) == 0 ? utcFormat(datum.value, '%Y') : utcFormat(datum.value, '%b %Y')",
     "grid": true, "gridColor": "#e2e2e2", "gridDash": [4,4], "ticks": false, "domainColor": "#000000",
     "labelFontSize": 13, "labelColor": "#333333", "labelPadding": 4}},
   "y": {"field": "o", "type": "quantitative", "scale": {"domain": [-88.3, 896], "nice": false, "zero": false}, "axis": null}}},
 {"data": {"values": [{"d":"2020-06-25","o":1}]},
  "mark": {"type": "point", "filled": true, "color": "#67a47e", "opacity": 1, "size": 1936, "strokeWidth": 0, "shape": "M-1,0L-0.72,-0.5L1,-0.5L1,0.5L-0.72,0.5Z"},
  "encoding": {"y": {"field": "o", "type": "quantitative", "scale": {"domain": [-88.3, 896], "nice": false, "zero": false}, "axis": null}}},
 {"data": {"values": [{"dt":"2020-06-17","o":1,"t":"1.00"}]},
  "mark": {"type": "text", "fontSize": 14, "color": "white", "align": "left", "baseline": "middle"},
  "encoding": {"x": {"field": "dt", "type": "temporal", "axis": null}, "y": {"field": "o", "type": "quantitative", "scale": {"domain": [-88.3, 896], "nice": false, "zero": false}, "axis": null}, "text": {"field": "t"}}},
 {"data": {"values": [{"d":"2019-10-03"}]},
  "mark": {"type": "rule", "color": "#a8a8a8", "strokeWidth": 1, "strokeDash": [4,3]},
  "encoding": {}},
 {"data": {"values": [{"d":"2019-08-29","d2":"2019-11-06","o":-86.6,"o2":-123.2}]},
  "mark": {"type": "rect", "fill": "#555555"},
  "encoding": {"x2": {"field": "d2"}, "y": {"field": "o", "type": "quantitative", "scale": {"domain": [-88.3, 896], "nice": false, "zero": false}, "axis": null}, "y2": {"field": "o2"}}},
 {"data": {"values": [{"d":"2019-10-03","o":-104.8,"t":"2019-10-03"}]},
  "mark": {"type": "text", "fontSize": 13, "color": "white", "align": "center", "baseline": "middle"},
  "encoding": {"y": {"field": "o", "type": "quantitative", "scale": {"domain": [-88.3, 896], "nice": false, "zero": false}, "axis": null}, "text": {"field": "t"}}}
],
"resolve": {"scale": {"x": "independent", "y": "independent", "color": "independent", "stroke": "independent", "fill": "independent"}, "axis": {"x": "independent", "y": "independent"}}
}
